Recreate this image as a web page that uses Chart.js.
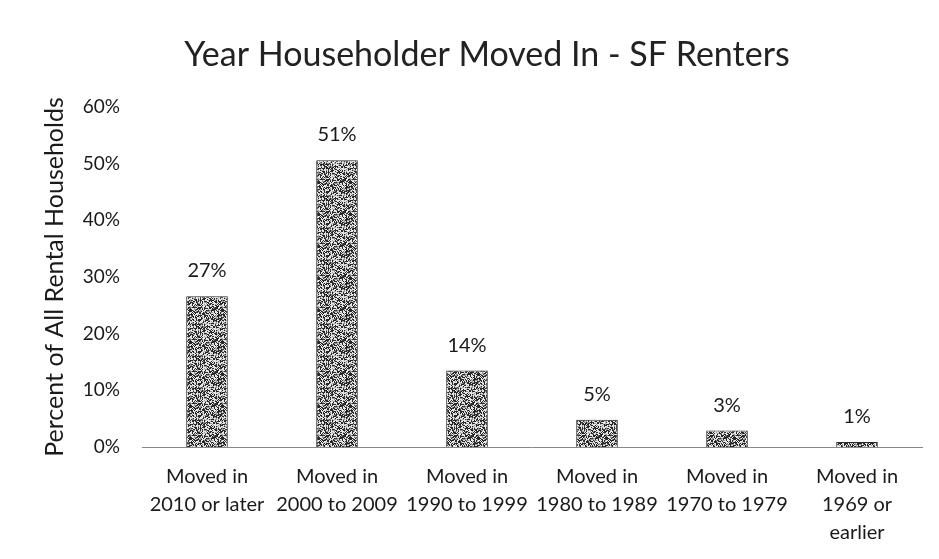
<!DOCTYPE html>
<html><head><meta charset="utf-8">
<script src="https://cdn.jsdelivr.net/npm/chart.js@4.4.0/dist/chart.umd.min.js"></script>
<style>html,body{margin:0;padding:0;background:#fff}#wrap{width:939px;height:559px}</style>
</head><body><div id="wrap"><canvas id="c" width="939" height="559"></canvas></div>
<script>
const categories = [
  ["Moved in", "2010 or later"],
  ["Moved in", "2000 to 2009"],
  ["Moved in", "1990 to 1999"],
  ["Moved in", "1980 to 1989"],
  ["Moved in", "1970 to 1979"],
  ["Moved in", "1969 or", "earlier"]
];
const values = [26.6, 50.6, 13.5, 4.8, 2.9, 0.9];
const labels = ["27%", "51%", "14%", "5%", "3%", "1%"];
const yTicks = [0, 10, 20, 30, 40, 50, 60];
const titleText = 'Year Householder Moved In - SF Renters';

const FONT = 'Lato, "Open Sans", sans-serif';

// stippled texture (style only)
function makePattern() {
  const p = document.createElement('canvas');
  p.width = 32; p.height = 32;
  const g = p.getContext('2d');
  const img = g.createImageData(32, 32);
  let s = 98765;
  for (let i = 0; i < 32 * 32; i++) {
    s = (s * 1103515245 + 12345) & 0x7fffffff;
    const r = (s >> 8) % 100;
    const v = r < 42 ? 40 : (r < 58 ? 150 : 230);
    img.data[i*4] = v; img.data[i*4+1] = v; img.data[i*4+2] = v; img.data[i*4+3] = 255;
  }
  g.putImageData(img, 0, 0);
  return g.createPattern(p, 'repeat');
}
const ctx0 = document.getElementById('c').getContext('2d');
const pattern = makePattern();

const valueLabels = {
  id: 'valueLabels',
  afterDatasetsDraw(chart) {
    const ctx = chart.ctx;
    const meta = chart.getDatasetMeta(0);
    ctx.save();
    ctx.font = '20px ' + FONT;
    ctx.fillStyle = '#1a1a1a';
    ctx.textAlign = 'center';
    ctx.textBaseline = 'alphabetic';
    meta.data.forEach((bar, i) => {
      ctx.fillText(labels[i], bar.x, bar.y - 19);
    });
    // chart title, offset to the right like the original
    ctx.font = '34px ' + FONT;
    ctx.fillStyle = '#222';
    ctx.textBaseline = 'alphabetic';
    ctx.fillText(titleText, 487, 66);
    ctx.restore();
  }
};

new Chart(ctx0, {
  type: 'bar',
  data: {
    labels: categories,
    datasets: [{
      data: values,
      backgroundColor: pattern,
      borderColor: '#2a2a2a',
      borderWidth: 1,
      barPercentage: 0.32,
      categoryPercentage: 1.0
    }]
  },
  options: {
    responsive: false,
    animation: false,
    layout: { padding: { left: 0, right: 17, top: 107, bottom: 0 } },
    plugins: {
      legend: { display: false },
      tooltip: { enabled: false },
      title: { display: false }
    },
    scales: {
      x: {
        afterFit(s) { s.height = 112; },
        grid: { display: false, drawTicks: false },
        border: { display: true, color: '#888', dash: [3, 6], width: 1 },
        ticks: {
          color: '#1a1a1a',
          padding: 16,
          maxRotation: 0,
          autoSkip: false,
          font: { family: FONT, size: 20, lineHeight: 1.4 }
        }
      },
      y: {
        min: 0, max: 60,
        afterFit(s) { s.width = 142; },
        afterBuildTicks(scale) { scale.ticks = yTicks.map(v => ({ value: v })); },
        grid: { display: false, drawTicks: false },
        border: { display: false },
        title: {
          display: true,
          text: 'Percent of All Rental Households',
          color: '#1a1a1a',
          font: { family: FONT, size: 25, lineHeight: 1.2 },
          padding: { top: 40, bottom: 0 }
        },
        ticks: {
          color: '#1a1a1a',
          padding: 22,
          font: { family: FONT, size: 19 },
          callback: v => v + '%'
        }
      }
    }
  },
  plugins: [valueLabels]
});
</script>
</body></html>
